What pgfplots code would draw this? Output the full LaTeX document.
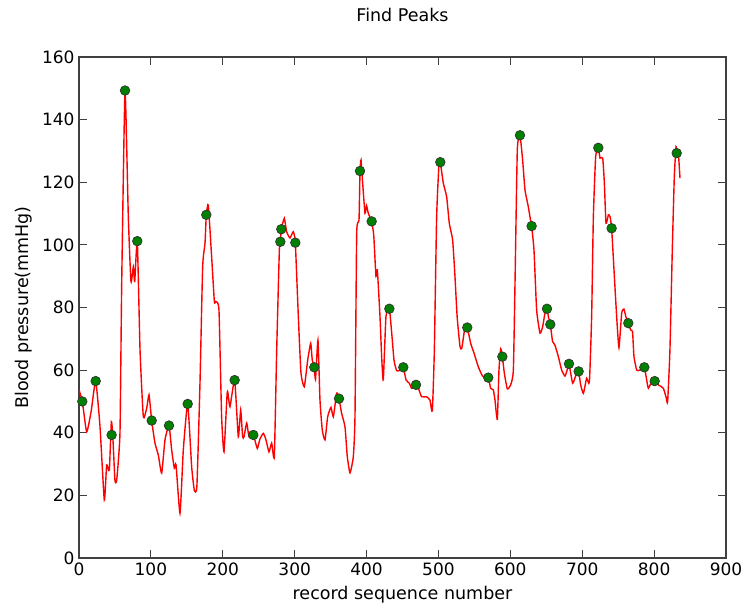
\documentclass[border=0pt]{standalone}
\usepackage{pgfplots}
\pgfplotsset{compat=1.18}
\usepackage{fontspec}
\setmainfont{DejaVu Sans}
\definecolor{mgreen}{rgb}{0,0.5,0}
\begin{document}
\begin{tikzpicture}
\begin{axis}[
  scale only axis,
  width=647pt, height=501pt,
  xmin=0, xmax=900, ymin=0, ymax=160,
  xtick={0,100,...,900}, ytick={0,20,...,160},
  tick align=inside, xtick pos=both, ytick pos=both,
  major tick length=8pt,
  tick style={black!75, line width=0.9pt},
  axis line style={black!75, line width=1.3pt},
  /pgf/number format/assume math mode=true,
  tick label style={font=\fontsize{17}{20}\selectfont},
  xticklabel style={yshift=-1pt},
  yticklabel style={xshift=-1pt},
  label style={font=\fontsize{17.5}{21}\selectfont},
  xlabel={record sequence number},
  ylabel={Blood pressure(mmHg)},
  xlabel style={yshift=-4pt},
  ylabel style={yshift=3pt},
  title={Find Peaks},
  title style={font=\fontsize{17.5}{21}\selectfont, yshift=26pt},
]
\addplot[red, line width=1.4pt, smooth, tension=0.3] coordinates {
(0,53.7)(4.6,50)(10.7,40.3)(17,47)(23.2,56.5)(29.2,42)(35.2,18.5)(38.5,29.7)(42.2,28.1)(45,43.5)(47,39)(50,24.9)(52.5,25)(57,40)(59.4,87.8)(64,149.3)(68.6,109)(72.3,88.3)(75.6,93)(77.5,88.3)(81.1,101.2)(84.9,66.4)(89.5,45.1)(94.2,47.9)(97.4,52.1)(101.1,43.9)(105.7,36.7)(110.3,32.9)(115,27.1)(119.6,37.7)(125.2,42.3)(128.9,34.5)(132.6,28.7)(135,29.7)(140.5,14.3)(145.1,34.5)(151.2,49.2)(156.7,29.2)(160.4,21.7)(164,23)(168.3,55.9)(172,93)(175.3,100.6)(177.1,109.6)(179.9,112.7)(184.5,96.2)(188.3,81.9)(190.5,81.9)(194.7,79.2)(198.4,45.1)(201.7,33.9)(206.3,53.1)(210,48.3)(216.5,56.8)(221.6,38.7)(224.9,47.3)(227.6,38.7)(229.5,38.7)(233.3,43.1)(236.5,38.7)(242.5,39.3)(248,35)(251.7,38)(256.4,39.8)(260,37.8)(264.3,33.9)(268,36.7)(271.7,32.4)(275,66.4)(278.7,98.4)(280.1,101)(281.4,105)(285.6,108.5)(288.8,104.2)(293.5,102.2)(298,104.2)(300.9,100.7)(305.1,77.1)(308.8,59)(313.4,54.7)(318.1,63.2)(322.3,68.6)(324.5,63.2)(327.3,60.9)(329,57)(332.4,69.6)(335.2,50.5)(338.4,40.9)(342.2,37.7)(345.9,45.1)(350.5,48.1)(353.8,45.1)(358.5,52.7)(361.7,50.9)(365.3,46.2)(370,41.9)(373.2,32.4)(377,27.2)(381.6,32.4)(383.9,45.1)(386.3,103.7)(389.5,108)(390.9,123.6)(392.3,127.1)(394.6,119.7)(397.8,110.1)(400,112.5)(402.4,110.1)(407.1,107.5)(410,103)(413.1,89.9)(415,92)(418.7,77.1)(421,64.3)(423.3,56.9)(427,77.1)(431.7,79.6)(435,71.8)(438.2,63.2)(441.9,59.8)(446.5,60)(451.1,60.9)(454.9,56.9)(459.5,55.8)(462.7,54.2)(468.8,55.3)(472.9,53.7)(476.6,51.5)(483.5,51.5)(488.2,50.4)(491.5,47)(494.3,66.4)(497.5,109)(501,127)(502.6,126.4)(506.8,119.7)(511.4,115.4)(515.1,106.9)(519.7,101.6)(523,89.9)(526,77.1)(530,67.5)(532.5,67)(536,72.3)(540.1,73.6)(544.8,68.6)(549.4,65.5)(555.4,61.1)(561.4,58.1)(569.3,57.6)(572.6,54.2)(576.3,53.7)(578.6,50.5)(581.9,44.3)(584.2,60)(586.6,66.8)(588.9,64.3)(591.7,59)(595.8,54)(600.5,55.3)(604.2,60)(606.5,87.7)(609.7,130.3)(613.4,135)(617.1,127.1)(620.4,117.5)(625,112.2)(628,108)(629.6,106)(632.9,98.4)(636.6,79.2)(641.3,71.8)(645,73.9)(648,78)(651,79.6)(653,77)(655.6,74.6)(658.8,69.1)(662,68)(666.8,64.3)(671.4,60)(676,58.1)(679,60)(681.6,62)(686.7,55.8)(691.3,58.4)(695,59.6)(697.8,55.3)(701.6,52.6)(706.2,57.4)(710,56.3)(713.1,77.1)(715.5,109)(718.7,128.2)(722.4,131)(724.8,127.7)(728.5,127.7)(730.8,119.7)(733.1,106.9)(736.4,109.6)(738.7,109)(740.9,105.3)(744.2,92)(747.9,77.1)(751.1,67.2)(754.9,78.2)(758,79.5)(760.8,77)(764.1,75)(767.4,72.8)(770,72.3)(772,64.3)(775.8,60)(780,60)(786.4,60.9)(789.6,56.9)(792,54.2)(796.6,56.3)(800.8,56.5)(805.9,55.3)(812.8,54.2)(816.5,51.5)(818.8,49.9)(822,66.4)(825.3,98.4)(828.1,121.8)(830.5,131.4)(831.4,129.3)(833.7,129.3)(836,121.3)
};
\addplot[only marks, mark=*, mark size=4.8pt, mark options={fill=mgreen, draw=black!80, line width=0.7pt}] coordinates {
(4.6,50)(23.2,56.5)(45.4,39.3)(64,149.3)(81.1,101.2)(101.1,43.9)(125.2,42.3)(151.2,49.2)(177.1,109.6)(216.5,56.8)(242.5,39.3)(280.1,101)(281.4,105)(300.9,100.7)(327.3,60.9)(361.7,50.9)(390.9,123.6)(407.1,107.5)(431.7,79.6)(451.1,60.9)(468.8,55.3)(502.6,126.4)(540.1,73.6)(569.3,57.6)(588.9,64.3)(613.4,135)(629.6,106)(651,79.6)(655.6,74.6)(681.6,62)(695,59.6)(722.4,131)(740.9,105.3)(764.1,75)(786.4,60.9)(800.8,56.5)(831.4,129.3)
};
\end{axis}
\pgfresetboundingbox
\path[use as bounding box] (current axis.south west) ++(-79pt,-53pt) rectangle ([xshift=19pt,yshift=57pt]current axis.north east);
\end{tikzpicture}
\end{document}
